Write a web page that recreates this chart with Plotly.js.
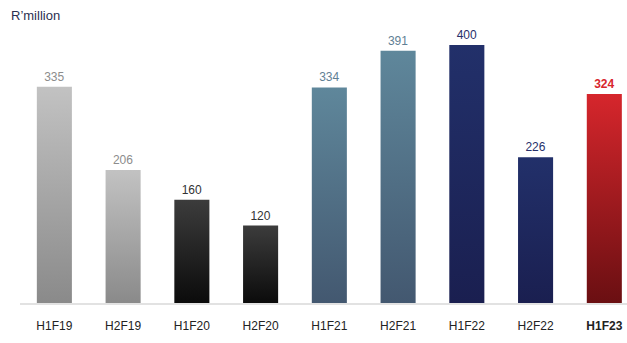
<!DOCTYPE html>
<html>
<head>
<meta charset="utf-8">
<script src="https://cdn.plot.ly/plotly-3.0.1.min.js"></script>
<style>html,body{margin:0;padding:0;background:#fff;}#chart{width:627px;height:343px;}</style>
</head>
<body>
<div id="chart"></div>
<script>
var categories = ["H1F19","H2F19","H1F20","H2F20","H1F21","H2F21","H1F22","H2F22","H1F23"];
var values = [335, 206, 160, 120, 334, 391, 400, 226, 324];
var tickLabels = ["H1F19","H2F19","H1F20","H2F20","H1F21","H2F21","H1F22","H2F22","<b>H1F23</b>"];
var labelColors = ["#8c8c8c","#8c8c8c","#333333","#333333","#5f7f95","#5f7f95","#27306a","#27306a","#d8262c"];
var topColors = ["#c2c2c2","#c2c2c2","#3c3c3c","#3c3c3c","#5f879b","#5f879b","#22306a","#22306a","#d6262c"];
var bottomColors = ["#8a8a8a","#8a8a8a","#0b0b0b","#0b0b0b","#435870","#435870","#1a1f50","#1a1f50","#6a0f12"];
var midColors = ["#a6a6a6","#a6a6a6","#242424","#242424","#517085","#517085","#1e285d","#1e285d","#a01a1f"];

var texts = values.map(function(v, i){ return i === values.length - 1 ? "<b>" + v + "</b>" : String(v); });

var trace = {
  type: "bar",
  x: categories,
  y: values,
  text: texts,
  textposition: "outside",
  cliponaxis: false,
  textfont: {family: "Liberation Sans, Arial, sans-serif", size: 12, color: labelColors},
  marker: {color: midColors, line: {width: 0}},
  hoverinfo: "none"
};

var layout = {
  width: 627, height: 343,
  margin: {l: 20, r: 0, t: 32, b: 40},
  paper_bgcolor: "#fff", plot_bgcolor: "#fff",
  bargap: 0.49,
  showlegend: false,
  xaxis: {
    type: "category",
    range: [-0.5, 8.33],
    tickvals: categories,
    ticktext: tickLabels,
    showline: true, linecolor: "#e2e2e2", linewidth: 2,
    showgrid: false, zeroline: false,
    ticks: "outside", ticklen: 11, tickcolor: "rgba(0,0,0,0)",
    tickfont: {family: "Liberation Sans, Arial, sans-serif", size: 12, color: "#222"},
    fixedrange: true
  },
  yaxis: {
    range: [0, 420],
    visible: false, showgrid: false, zeroline: false, fixedrange: true
  },
  annotations: [{
    text: "R\u2019million", xref: "paper", yref: "paper",
    x: -20/607, y: 1 + 32/271, xanchor: "left", yanchor: "top",
    xshift: 9, yshift: -6,
    showarrow: false,
    font: {family: "Liberation Sans, Arial, sans-serif", size: 13, color: "#2a3050"}
  }]
};

Plotly.newPlot("chart", [trace], layout, {displayModeBar: false, staticPlot: true}).then(function(gd){
  var svg = gd.querySelector(".main-svg");
  var ns = "http://www.w3.org/2000/svg";
  var defs = svg.querySelector("defs");
  if (!defs) { defs = document.createElementNS(ns, "defs"); svg.insertBefore(defs, svg.firstChild); }
  topColors.forEach(function(c, i){
    var lg = document.createElementNS(ns, "linearGradient");
    lg.setAttribute("id", "bargrad" + i);
    lg.setAttribute("x1", "0"); lg.setAttribute("y1", "0");
    lg.setAttribute("x2", "0"); lg.setAttribute("y2", "1");
    var s1 = document.createElementNS(ns, "stop");
    s1.setAttribute("offset", "0"); s1.setAttribute("stop-color", c);
    var s2 = document.createElementNS(ns, "stop");
    s2.setAttribute("offset", "1"); s2.setAttribute("stop-color", bottomColors[i]);
    lg.appendChild(s1); lg.appendChild(s2);
    defs.appendChild(lg);
  });
  var paths = gd.querySelectorAll(".barlayer .point path");
  paths.forEach(function(p, i){ p.style.fill = "url(#bargrad" + i + ")"; });
});
</script>
</body>
</html>
